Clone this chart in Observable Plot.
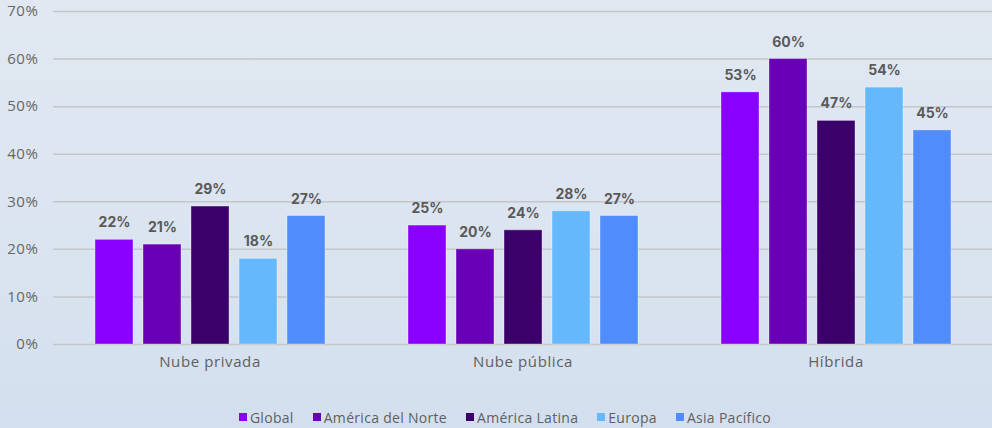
<!DOCTYPE html>
<html>
<head>
<meta charset="utf-8">
<script src="https://cdn.jsdelivr.net/npm/d3@7"></script>
<script src="https://cdn.jsdelivr.net/npm/@observablehq/plot@0.6"></script>
<style>
  html, body { margin: 0; padding: 0; }
  body {
    width: 992px; height: 428px; overflow: hidden;
    background: linear-gradient(180deg, #e1e8f2 0%, #dae4f0 60%, #d3dfee 100%);
    font-family: Inter, "Noto Sans", sans-serif;
  }
  #legend {
    display: flex; justify-content: center; gap: 19px;
    font-size: 14px; color: #5f5f5f; height: 38px; align-items: center;
    padding-top: 8px; padding-left: 18px; letter-spacing: 0.3px;
    font-family: "Open Sans", sans-serif;
  }
  #legend .item { display: flex; align-items: center; gap: 3px; }
  #legend .sw { width: 8px; height: 8px; display: inline-block; }
  .tick-label text { letter-spacing: 0.6px; }
</style>
</head>
<body>
<div id="chart"></div>
<div id="legend"></div>
<script>
const categories = ["Nube privada", "Nube pública", "Híbrida"];
const series = ["Global", "América del Norte", "América Latina", "Europa", "Asia Pacífico"];
const colors = ["#8a00fe", "#6800b8", "#3c006b", "#66b8fc", "#508cfb"];
const valuesNubePrivada = [22, 21, 29, 18, 27];
const valuesNubePublica = [25, 20, 24, 28, 27];
const valuesHibrida = [53, 60, 47, 54, 45];
const yTicks = [0, 10, 20, 30, 40, 50, 60, 70];

const allValues = [valuesNubePrivada, valuesNubePublica, valuesHibrida];
const data = [];
categories.forEach((c, i) => series.forEach((s, j) => data.push({cat: c, serie: s, value: allValues[i][j]})));

const chart = Plot.plot({
  width: 992,
  height: 390,
  marginLeft: 53,
  marginRight: 0,
  marginTop: 11,
  marginBottom: 46,
  style: {fontFamily: "Inter, 'Noto Sans', sans-serif", fontSize: "14px", background: "transparent", color: "#5f5f5f"},
  fx: {domain: categories, padding: 0, label: null},
  x: {domain: series, paddingInner: 0.21, paddingOuter: 0.84, axis: null},
  y: {domain: [0, 70], label: null},
  color: {domain: series, range: colors},
  marks: [
    Plot.gridY(yTicks, {stroke: "#c4c6c9", strokeOpacity: 1, strokeWidth: 1.5}),
    Plot.axisY(yTicks, {tickSize: 0, tickPadding: 15, tickFormat: d => d + "%", fill: "#666", fontSize: 15, fontFamily: "'Open Sans', sans-serif", className: "tick-label"}),
    Plot.axisFx({anchor: "bottom", tickSize: 0, tickPadding: 12, fill: "#5f5f5f", fontSize: 15, label: null, fontFamily: "'Open Sans', sans-serif", className: "tick-label"}),
    Plot.barY(data, {fx: "cat", x: "serie", y: "value", fill: "serie", stroke: "#ffffff", strokeOpacity: 0.35, strokeWidth: 1}),
    Plot.text(data, {fx: "cat", x: "serie", y: "value", text: d => d.value + "%", dy: -17, fill: "#595959", fontWeight: "bold", fontSize: 14})
  ]
});
document.getElementById("chart").appendChild(chart);

const legend = document.getElementById("legend");
series.forEach((s, i) => {
  const item = document.createElement("span");
  item.className = "item";
  const sw = document.createElement("span");
  sw.className = "sw";
  sw.style.background = colors[i];
  item.appendChild(sw);
  item.appendChild(document.createTextNode(s));
  legend.appendChild(item);
});
</script>
</body>
</html>
